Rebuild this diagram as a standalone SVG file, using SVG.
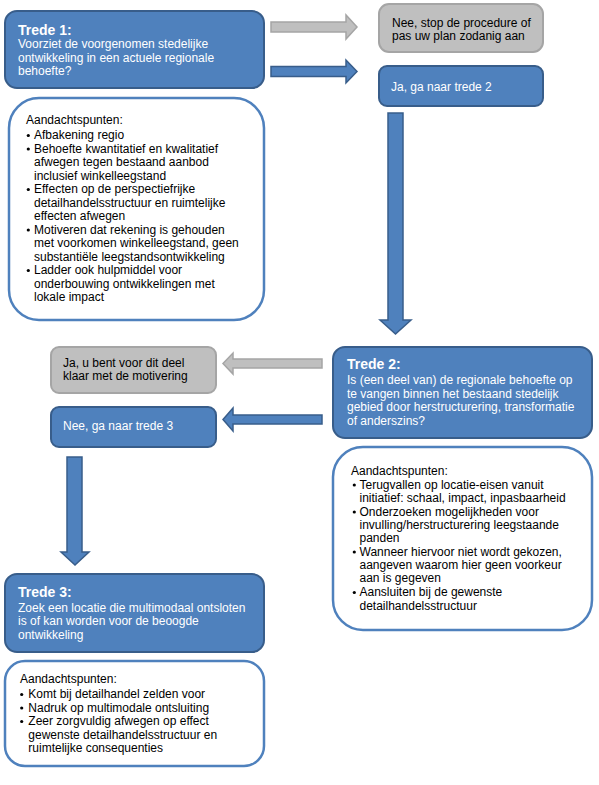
<svg xmlns="http://www.w3.org/2000/svg" width="599" height="785" viewBox="0 0 599 785">
<style>
text{font-family:"Liberation Sans",Arial,sans-serif;font-size:12px}
.w{fill:#fff}
.k{fill:#000}
.t{font-size:14px;font-weight:bold;fill:#fff}
.blue{fill:#4F81BD;stroke:#385D8A;stroke-width:2}
.gray{fill:#BFBFBF;stroke:#A5A5A5;stroke-width:2}
.note{fill:#fff;stroke:#4F81BD;stroke-width:2.5}
.ab{fill:#4F81BD;stroke:#385D8A;stroke-width:1.5}
.ag{fill:#BFBFBF;stroke:#A5A5A5;stroke-width:1.5}
.b{fill:#000}
</style>
<rect width="599" height="785" fill="#fff"/>
<g id="connectors">
<polygon class="ag" points="271,22 346,22 346,15 357,27 346,39 346,32 271,32"/>
<polygon class="ab" points="271,66.5 346,66.5 346,60 357,71.5 346,83 346,76.5 271,76.5"/>
<polygon class="ab" points="388,113 403,113 403,320 411,320 395.5,334 380,320 388,320"/>
<polygon class="ag" points="322,359 233,359 233,353 223,363.5 233,374 233,368 322,368"/>
<polygon class="ab" points="322,415 233,415 233,408 223,419.5 233,431 233,424 322,424"/>
<polygon class="ab" points="67,457 82,457 82,552 89,552 75,565 61,552 67,552"/>
</g>
<g id="trede1">
<rect class="blue" x="5" y="11" width="259" height="77" rx="12"/>
<text class="t" x="18" y="35">Trede 1:</text>
<text class="w" x="18" y="48">Voorziet de voorgenomen stedelijke</text>
<text class="w" x="18" y="61.5">ontwikkeling in een actuele regionale</text>
<text class="w" x="18" y="75">behoefte?</text>
</g>
<g id="nee1">
<rect class="gray" x="379" y="4" width="164" height="48" rx="10"/>
<text class="k" x="392" y="27">Nee, stop de procedure of</text>
<text class="k" x="392" y="39.5">pas uw plan zodanig aan</text>
</g>
<g id="ja1">
<rect class="blue" x="379" y="66" width="164" height="40" rx="8"/>
<text class="w" x="391" y="91">Ja, ga naar trede 2</text>
</g>
<g id="aandacht1">
<rect class="note" x="9" y="98" width="255" height="222" rx="30"/>
<text class="k" x="26" y="124">Aandachtspunten:</text>
<g class="b">
<circle cx="28.3" cy="135.5" r="1.6"/>
<circle cx="28.3" cy="149" r="1.6"/>
<circle cx="28.3" cy="189.5" r="1.6"/>
<circle cx="28.3" cy="230" r="1.6"/>
<circle cx="28.3" cy="270.5" r="1.6"/>
</g>
<text class="k" x="34" y="139">Afbakening regio</text>
<text class="k" x="34" y="152.5">Behoefte kwantitatief en kwalitatief</text>
<text class="k" x="34" y="166">afwegen tegen bestaand aanbod</text>
<text class="k" x="34" y="179.5">inclusief winkelleegstand</text>
<text class="k" x="34" y="193">Effecten op de perspectiefrijke</text>
<text class="k" x="34" y="206.5">detailhandelsstructuur en ruimtelijke</text>
<text class="k" x="34" y="220">effecten afwegen</text>
<text class="k" x="34" y="233.5">Motiveren dat rekening is gehouden</text>
<text class="k" x="34" y="247">met voorkomen winkelleegstand, geen</text>
<text class="k" x="34" y="260.5">substantiële leegstandsontwikkeling</text>
<text class="k" x="34" y="274">Ladder ook hulpmiddel voor</text>
<text class="k" x="34" y="287.5">onderbouwing ontwikkelingen met</text>
<text class="k" x="34" y="301">lokale impact</text>
</g>
<g id="trede2">
<rect class="blue" x="333" y="347" width="259" height="91" rx="12"/>
<text class="t" x="347" y="369">Trede 2:</text>
<text class="w" x="347" y="384">Is (een deel van) de regionale behoefte op</text>
<text class="w" x="347" y="397.5">te vangen binnen het bestaand stedelijk</text>
<text class="w" x="347" y="411">gebied door herstructurering, transformatie</text>
<text class="w" x="347" y="424.5">of anderszins?</text>
</g>
<g id="ja2">
<rect class="gray" x="51" y="347" width="165" height="46" rx="8"/>
<text class="k" x="63" y="367">Ja, u bent voor dit deel</text>
<text class="k" x="63" y="379.5">klaar met de motivering</text>
</g>
<g id="nee2">
<rect class="blue" x="51" y="407" width="165" height="40" rx="8"/>
<text class="w" x="63" y="430">Nee, ga naar trede 3</text>
</g>
<g id="aandacht2">
<rect class="note" x="333" y="447" width="259" height="183" rx="30"/>
<text class="k" x="351" y="475">Aandachtspunten:</text>
<g class="b">
<circle cx="354.3" cy="485" r="1.6"/>
<circle cx="354.3" cy="512" r="1.6"/>
<circle cx="354.3" cy="552" r="1.6"/>
<circle cx="354.3" cy="592.5" r="1.6"/>
</g>
<text class="k" x="359.5" y="488.5">Terugvallen op locatie-eisen vanuit</text>
<text class="k" x="359.5" y="502">initiatief: schaal, impact, inpasbaarheid</text>
<text class="k" x="359.5" y="515.5">Onderzoeken mogelijkheden voor</text>
<text class="k" x="359.5" y="529">invulling/herstructurering leegstaande</text>
<text class="k" x="359.5" y="542">panden</text>
<text class="k" x="359.5" y="555.5">Wanneer hiervoor niet wordt gekozen,</text>
<text class="k" x="359.5" y="569">aangeven waarom hier geen voorkeur</text>
<text class="k" x="359.5" y="582">aan is gegeven</text>
<text class="k" x="359.5" y="596">Aansluiten bij de gewenste</text>
<text class="k" x="359.5" y="609.5">detailhandelsstructuur</text>
</g>
<g id="trede3">
<rect class="blue" x="5" y="574" width="259" height="78" rx="12"/>
<text class="t" x="18" y="597">Trede 3:</text>
<text class="w" x="18" y="611.5">Zoek een locatie die multimodaal ontsloten</text>
<text class="w" x="18" y="625">is of kan worden voor de beoogde</text>
<text class="w" x="18" y="638.5">ontwikkeling</text>
</g>
<g id="aandacht3">
<rect class="note" x="5" y="661" width="259" height="105" rx="20"/>
<text class="k" x="20" y="683">Aandachtspunten:</text>
<g class="b">
<circle cx="21.7" cy="694.5" r="1.6"/>
<circle cx="21.7" cy="708" r="1.6"/>
<circle cx="21.7" cy="721.5" r="1.6"/>
</g>
<text class="k" x="28.3" y="698">Komt bij detailhandel zelden voor</text>
<text class="k" x="28.3" y="711.5">Nadruk op multimodale ontsluiting</text>
<text class="k" x="28.3" y="725">Zeer zorgvuldig afwegen op effect</text>
<text class="k" x="28.3" y="738.5">gewenste detailhandelsstructuur en</text>
<text class="k" x="28.3" y="752">ruimtelijke consequenties</text>
</g>
</svg>
